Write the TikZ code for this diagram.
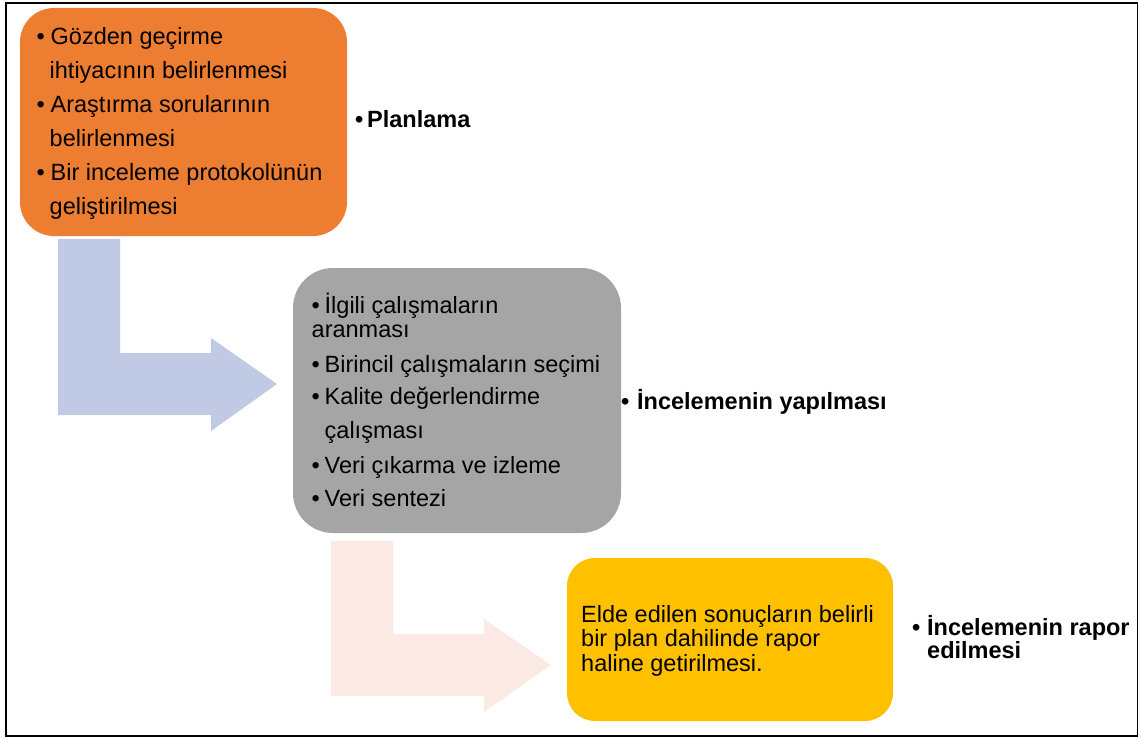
\documentclass[tikz,border=0pt]{standalone}
\usepackage{fontspec}
\setmainfont{Liberation Sans}

\definecolor{planorange}{HTML}{ED7D31}
\definecolor{yapgray}{HTML}{A5A5A5}
\definecolor{raporyellow}{HTML}{FFC000}
\definecolor{arrowblue}{HTML}{C0CAE4}
\definecolor{arrowpink}{HTML}{FBEAE4}

\newcommand{\blt}[1][13pt]{\makebox[#1][l]{•}}

\tikzset{
    box/.style={rounded corners=#1, inner sep=0pt, draw=none},
    boxtext/.style={anchor=base west, inner sep=0pt,
        font=\fontsize{23.5}{24}\selectfont},
    steplabel/.style={anchor=base west, inner sep=0pt,
        font=\fontsize{23.5}{23}\selectfont\bfseries}
}

\begin{document}
\begin{tikzpicture}[x=1pt,y=-1pt]
    \useasboundingbox (0,0) rectangle (1139,738);
    \draw[line width=1.5pt] (6,3) rectangle (1137.5,736);

    \fill[arrowblue] (58,239) -- (120,239) -- (120,353) -- (211,353) -- (211,338)
        -- (277,384) -- (211,431) -- (211,415) -- (58,415) -- cycle;
    \fill[arrowpink] (331,541) -- (393,541) -- (393,634) -- (484,634) -- (484,619)
        -- (551,665) -- (484,712) -- (484,696) -- (331,696) -- cycle;

    \node[box=34pt, fill=planorange, minimum width=327pt, minimum height=228pt]
        (planbox) at (183.5,122) {};
    \node[box=40pt, fill=yapgray, minimum width=328pt, minimum height=265pt]
        (yapbox) at (457,400.5) {};
    \node[box=28pt, fill=raporyellow, minimum width=326pt, minimum height=163pt]
        (raporbox) at (730,639.5) {};

    \node[boxtext] (plantext) at (36.5,45) {\begin{tabular}[t]{@{}l@{}}
        \blt[14pt]Gözden geçirme\\[9.6pt]
        \hspace{13pt}ihtiyacının belirlenmesi\\[9.6pt]
        \blt[14pt]Araştırma sorularının\\[9.6pt]
        \hspace{13pt}belirlenmesi\\[9.6pt]
        \blt[14pt]Bir inceleme protokolünün\\[9.6pt]
        \hspace{13pt}geliştirilmesi
    \end{tabular}};

    \node[boxtext] (yaptext) at (311.5,313) {\begin{tabular}[t]{@{}l@{}}
        \blt İlgili çalışmaların\\
        aranması\\[11pt]
        \blt Birincil çalışmaların seçimi\\[8pt]
        \blt Kalite değerlendirme\\[10pt]
        \hspace{13pt}çalışması\\[10pt]
        \blt Veri çıkarma ve izleme\\[9pt]
        \blt Veri sentezi
    \end{tabular}};

    \node[boxtext, font=\fontsize{23.5}{24.5}\selectfont] (raportext) at (581,622)
        {\begin{tabular}[t]{@{}l@{}}
        Elde edilen sonuçların belirli\\
        bir plan dahilinde rapor\\
        haline getirilmesi.
    \end{tabular}};

    \node[steplabel] (planlabel) at (355,128) {\blt[12pt]Planlama};
    \node[steplabel] (yaplabel) at (621,409) {\blt[16pt]İncelemenin yapılması};
    \node[steplabel] (raporlabel) at (912,635) {\begin{tabular}[t]{@{}l@{}}
        \blt[15pt]İncelemenin rapor\\
        \hspace{15pt}edilmesi
    \end{tabular}};
\end{tikzpicture}
\end{document}
